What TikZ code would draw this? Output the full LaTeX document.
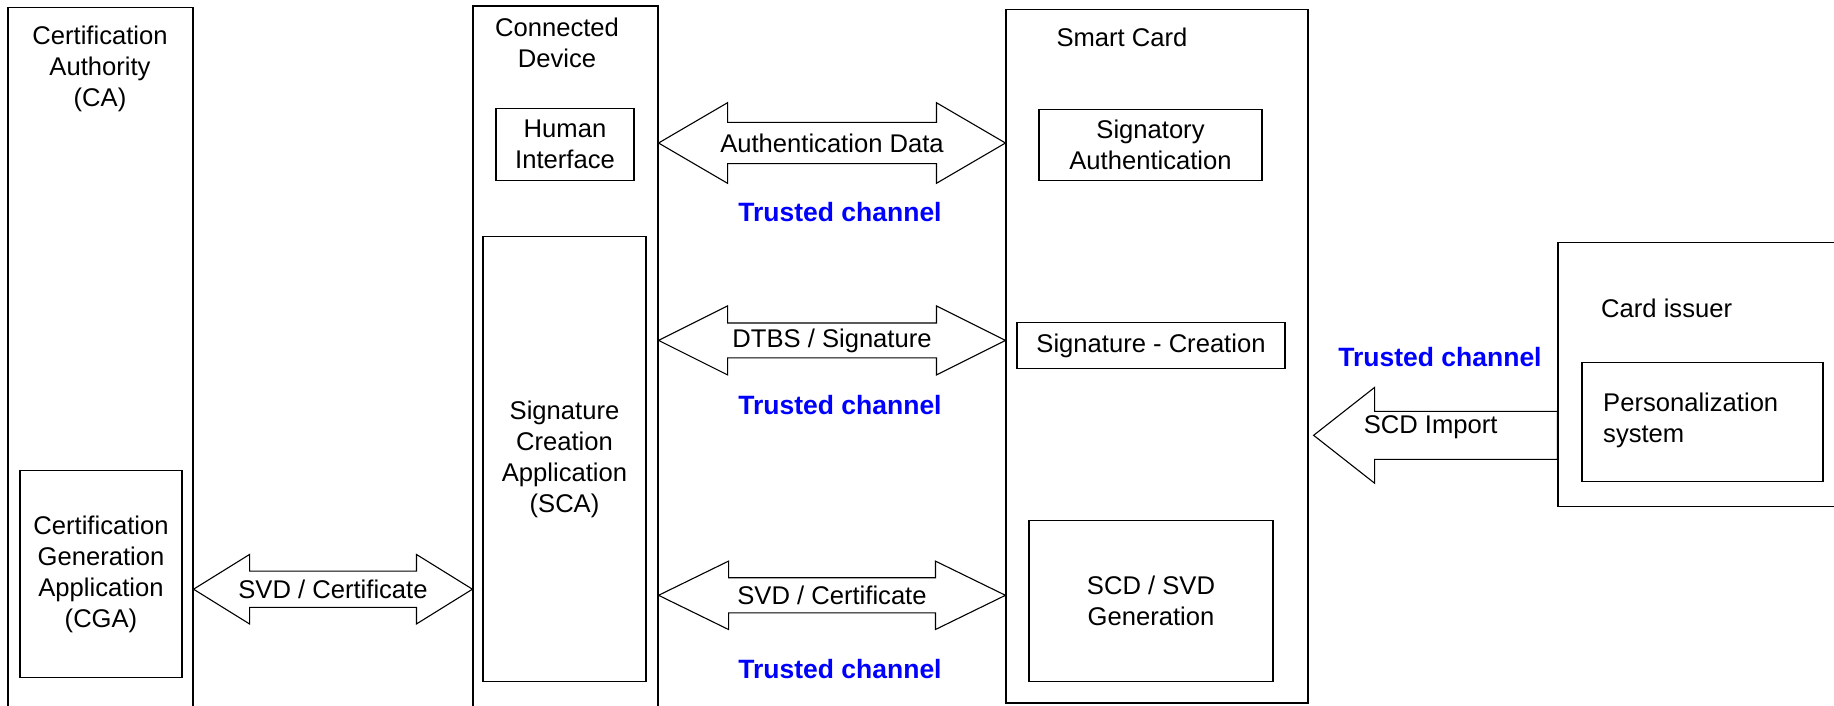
\documentclass[tikz,border=0pt]{standalone}
\usepackage{fontspec}
\setmainfont{Liberation Sans}
\usetikzlibrary{calc,fit}

\tikzset{
  box/.style={draw, line width=1.1pt, inner sep=0pt},
  lbl/.style={font=\fontsize{25.6}{31}\selectfont, align=center, inner sep=0pt},
  trusted/.style={font=\fontsize{26.5}{31}\selectfont\bfseries, text=blue, inner sep=0pt},
  blockarrow/.style={draw, fill=white, line width=1.1pt, line join=miter}
}
% #1 left tip, #2 right tip, #3 head length, #4 half shaft, #5 half head
\newcommand{\twoway}[5]{%
  \path[blockarrow] (#1) -- ++(#3,-#5) -- ++(0,#5-#4) -- ($(#2)+(-#3,-#4)$) -- ++(0,#4-#5)
    -- (#2) -- ++(-#3,#5) -- ++(0,#4-#5) -- ($(#1)+(#3,#4)$) -- ++(0,#5-#4) -- cycle;}
% #1 tip, #2 tail, #3 head length, #4 half shaft, #5 half head
\newcommand{\oneway}[5]{%
  \path[blockarrow] (#1) -- ++(#3,-#5) -- ++(0,#5-#4) -- ($(#2)+(0,-#4)$)
    -- ($(#2)+(0,#4)$) -- ($(#1)+(#3,#4)$) -- ++(0,#5-#4) -- cycle;}

\begin{document}
\begin{tikzpicture}[x=1pt, y=-1pt]
  \clip (0,0) rectangle (1834,705);
  % outer boxes
  \node[box, fit={(8,7.7) (193,720)}] (ca) {};
  \node[box, fit={(473,6) (658,720)}] (dev) {};
  \node[box, fit={(1006,9.1) (1308,703)}] (card) {};
  \node[box, fit={(1558,242.8) (1845,506.3)}] (issuer) {};
  % inner boxes
  \node[box, fit={(20,470.4) (182,677.8)}] (cga) {};
  \node[box, fit={(496,108.8) (634,180.3)}] (hci) {};
  \node[box, fit={(483,236.7) (646,681.9)}] (sca) {};
  \node[box, fit={(1039,109.8) (1262,180.3)}] (sigauth) {};
  \node[box, fit={(1017,322.3) (1285,368.6)}] (sigcre) {};
  \node[box, fit={(1029,520.7) (1273,681.9)}] (gen) {};
  \node[box, fit={(1582,362.4) (1823,481.1)}] (pers) {};

  \node[lbl] (catext) at (100,69) {Certification\\Authority\\(CA)};
  \node[lbl] (cgatext) at (cga) {Certification\\Generation\\Application\\(CGA)};
  \node[lbl] (devtext) at (557,43) {Connected\\Device};
  \node[lbl] (hcitext) at (hci) {Human\\Interface};
  \node[lbl] (scatext) at (sca) {Signature\\Creation\\Application\\(SCA)};
  \node[lbl] (cardtext) at (1122,37) {Smart Card};
  \node[lbl] (sigauthtext) at (sigauth) {Signatory\\Authentication};
  \node[lbl] (sigcretext) at (sigcre) {Signature - Creation};
  \node[lbl] (gentext) at (gen) {SCD / SVD\\Generation};
  \node[lbl, anchor=west] (issuertext) at (1601,308) {Card issuer};
  \node[lbl, align=left, anchor=west] (perstext) at (1603,420) {Personalization\\system};

  % channels
  \coordinate (y0) at (0,589.2);
  \coordinate (y1) at (0,143);
  \coordinate (y2) at (0,340.4);
  \coordinate (y3) at (0,595.3);
  \coordinate (imp) at (1313.6,435.3);
  \twoway{ca.east |- y0}{dev.west |- y0}{56}{18.1}{34.75}
  \twoway{dev.east |- y1}{card.west |- y1}{69}{20.6}{40.3}
  \twoway{dev.east |- y2}{card.west |- y2}{69}{17.4}{34.5}
  \twoway{dev.east |- y3}{card.west |- y3}{70}{17.6}{34.2}
  \oneway{imp}{issuer.west |- imp}{61}{24}{47.9}

  \node[lbl] (svd0) at ($(ca.east |- y0)!0.5!(dev.west |- y0)$) {SVD / Certificate};
  \node[lbl] (auth) at ($(dev.east |- y1)!0.5!(card.west |- y1)$) {Authentication Data};
  \node[lbl] (dtbs) at ($(dev.east |- y2)!0.5!(card.west |- y2)$) {DTBS / Signature};
  \node[lbl] (svd1) at ($(dev.east |- y3)!0.5!(card.west |- y3)$) {SVD / Certificate};
  \node[lbl] (scdimp) at ($(imp)+(117,-8)$) {SCD Import};

  \node[trusted] (tc1) at (840,212.5) {Trusted channel};
  \node[trusted] (tc2) at (840,404.9) {Trusted channel};
  \node[trusted] (tc3) at (840,668.8) {Trusted channel};
  \node[trusted] (tc4) at (1440,356.6) {Trusted channel};
\end{tikzpicture}
\end{document}
